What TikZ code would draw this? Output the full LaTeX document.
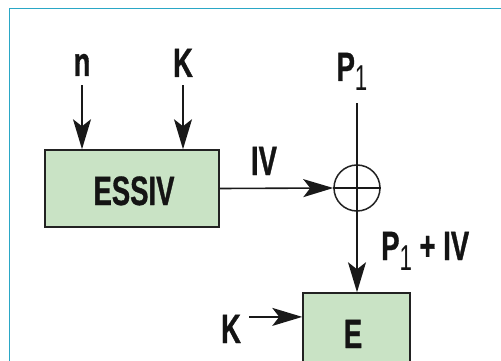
\documentclass[tikz,border=0pt]{standalone}
\usepackage{fontspec}
\newfontfamily\labfont{Liberation Sans Bold}[FakeStretch=0.67,FakeBold=0.8]
\newfontfamily\subfont{Liberation Sans}[FakeStretch=0.62]
\usetikzlibrary{arrows.meta}
\definecolor{boxgreen}{HTML}{C9E3C5}
\definecolor{framecol}{HTML}{2AA7C6}
\definecolor{edgecol}{HTML}{222222}
\newcommand{\sub}[1]{\raisebox{-10pt}{\subfont\fontsize{36}{40}\selectfont #1}}
\tikzset{
  lab/.style={inner sep=0pt, anchor=base, font=\labfont\fontsize{41}{46}\selectfont, text=black!92},
  greenbox/.style={draw=edgecol, fill=boxgreen, line width=1.5pt, inner sep=0pt},
  conn/.style={line width=1.6pt, draw=black!90},
  arr/.style={conn, -{Stealth[length=30pt,width=18pt,inset=7pt]}},
}
\begin{document}
\begin{tikzpicture}[x=1pt,y=-1pt]
\useasboundingbox (0,0) rectangle (501,361);
\clip (0,0) rectangle (501,361);
\fill[white] (0,0) rectangle (501,361);
\draw[framecol, line width=1.2pt] (9.5,380) -- (9.5,8.5) -- (520,8.5);

% blocks
\node[greenbox, minimum width=174pt, minimum height=77pt] (essiv) at (132,188.5) {};
\node[lab] (essivtxt) at (134,205) {ESSIV};
\node[greenbox, minimum width=107pt, minimum height=110pt] (ebox) at (356.5,348) {};
\node[lab] (etxt) at (353,348) {E};
\node[draw=edgecol, line width=1.5pt, circle, minimum size=46pt, inner sep=0pt] (xor) at (357,188) {};

% labels
\node[lab] (n) at (82,76) {n};
\node[lab] (k1) at (183,77) {K};
\node[lab] (p1) at (352,81) {P\sub{1}};
\node[lab] (iv) at (264,175) {IV};
\node[lab, anchor=base west] (sum) at (381,260) {P\sub{1} + IV};
\node[lab] (k2) at (231,343) {K};

% connectors
\draw[arr] ([yshift=-9pt]n.south) -- (n.south |- essiv.north);
\draw[arr] ([yshift=-8pt]k1.south) -- (k1.south |- essiv.north);
\draw[arr] (essiv.east) -- (xor.west);
\draw[conn] (xor.west) -- (xor.east);
\draw[conn] (xor.north |- p1.south) ++(0,12) -- (xor.north);
\draw[conn] (xor.north) -- (xor.south);
\draw[arr] (xor.south) -- (xor.south |- ebox.north);
\coordinate (k2end) at ([xshift=8pt,yshift=12pt]k2.east);
\draw[arr] (k2end) -- (k2end -| ebox.west);
\end{tikzpicture}
\end{document}
